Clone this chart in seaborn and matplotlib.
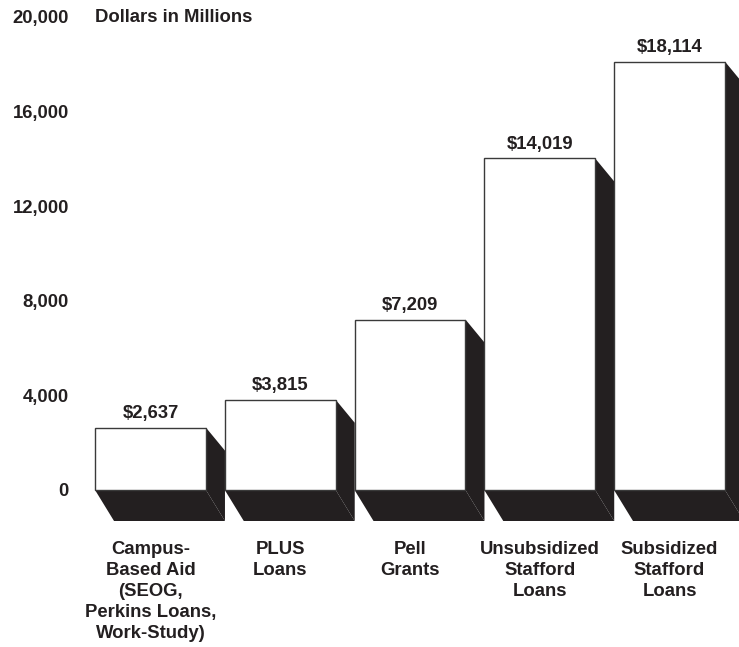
import matplotlib
matplotlib.use("Agg")
import matplotlib.pyplot as plt
from matplotlib.patches import Polygon
import seaborn as sns
import pandas as pd

categories = [
    "Campus-\nBased Aid\n(SEOG,\nPerkins Loans,\nWork-Study)",
    "PLUS\nLoans",
    "Pell\nGrants",
    "Unsubsidized\nStafford\nLoans",
    "Subsidized\nStafford\nLoans",
]
amounts = [2637, 3815, 7209, 14019, 18114]
value_labels = ["$2,637", "$3,815", "$7,209", "$14,019", "$18,114"]
y_ticks = [0, 4000, 8000, 12000, 16000, 20000]
y_tick_labels = ["0", "4,000", "8,000", "12,000", "16,000", "20,000"]
unit_title = "Dollars in Millions"

INK = "#231f20"
FS = 13.3

sns.set_theme(style="white")
plt.rcParams["font.family"] = ["Liberation Sans", "DejaVu Sans"]
plt.rcParams["font.weight"] = "bold"

W, H = 739, 647
fig = plt.figure(figsize=(W / 100, H / 100), dpi=100)
ax_left_px = 80
ax = fig.add_axes([ax_left_px / W, 0, (W - ax_left_px) / W, 1])

df = pd.DataFrame({"program": categories, "amount": amounts})
sns.barplot(data=df, x="program", y="amount", color="white", width=0.855,
            edgecolor="#3a3a3a", linewidth=1.0, saturation=1, ax=ax, zorder=3)

# axis geometry: 129.75 px per category, 23.65 px per 1000 dollars
px_per_x = 129.75
px_per_y = 23.65 / 1000
x0_px, base_px = 150.5, 490
ax.set_xlim(-(x0_px - ax_left_px) / px_per_x, (W - x0_px) / px_per_x)
ax.set_ylim(-(H - base_px) / px_per_y, base_px / px_per_y)

# extruded shadow on the right side and beneath each bar
dx = 19 / px_per_x
dy_top = 23 / px_per_y
dy_bot = 31 / px_per_y
for bar in ax.patches[:len(amounts)]:
    xl = bar.get_x()
    xr = xl + bar.get_width()
    top = bar.get_height()
    side = Polygon([(xr, top), (xr + dx, top - dy_top), (xr + dx, -dy_bot), (xr, 0)],
                   closed=True, facecolor=INK, edgecolor="none", zorder=2)
    bottom = Polygon([(xl, 0), (xr, 0), (xr + dx, -dy_bot), (xl + dx, -dy_bot)],
                     closed=True, facecolor=INK, edgecolor="none", zorder=2)
    ax.add_patch(side)
    ax.add_patch(bottom)

ax.bar_label(ax.containers[0], labels=value_labels, padding=4,
             fontsize=FS, fontweight="bold", color=INK)

ax.set_yticks(y_ticks)
ax.set_yticklabels(y_tick_labels, fontsize=FS, fontweight="bold", color=INK)
ax.tick_params(axis="y", length=0, pad=8.0)
ax.set_xticks([])
ax.set_xlabel("")
ax.set_ylabel("")
for s in ax.spines.values():
    s.set_visible(False)

for i, name in enumerate(categories):
    ax.text(i, -(541.5 - base_px) / px_per_y, name, ha="center", va="top",
            fontsize=FS, fontweight="bold", color=INK, linespacing=1.3,
            multialignment="center")

ax.text(95 / px_per_x - x0_px / px_per_x, 20000, unit_title, ha="left", va="center",
        fontsize=FS, fontweight="bold", color=INK)

fig.savefig("out.png", dpi=100)
